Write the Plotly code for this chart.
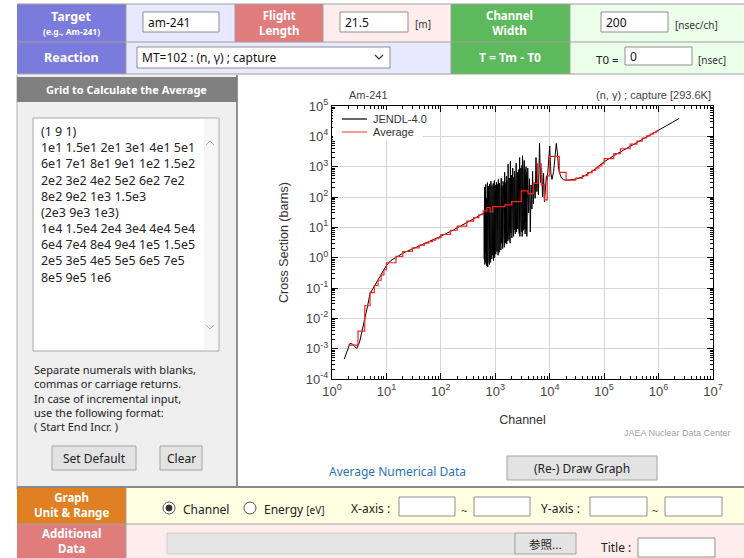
import plotly.graph_objects as go

# ---------------------------------------------------------------------------
# Am-241 (n, gamma) capture cross section (JENDL-4.0) versus TOF channel
# ---------------------------------------------------------------------------
jendl_channel = [
    # smooth low-channel part
    1.68, 1.9, 2.14, 2.4, 2.84, 3.2, 3.6, 4.03, 4.5, 5.0,
    6.15, 7.0, 8.0, 10.1, 12.0, 15.4, 20.0, 31.0, 50.0, 96.0,
    168.0, 300.0, 420.0, 597.0,
    # resolved resonance region
    620, 627, 635, 643, 651, 659, 667, 675, 683, 691,
    700, 708, 717, 726, 735, 744, 753, 762, 771, 781,
    790, 800, 810, 820, 830, 840, 850, 861, 871, 882,
    893, 904, 915, 926, 937, 949, 960, 972, 984, 996,
    1008, 1020, 1033, 1045, 1058, 1071, 1084, 1097, 1111, 1124,
    1138, 1152, 1166, 1180, 1195, 1209, 1224, 1239, 1254, 1269,
    1285, 1301, 1317, 1333, 1349, 1366, 1382, 1399, 1416, 1434,
    1451, 1469, 1487, 1505, 1523, 1542, 1561, 1580, 1599, 1619,
    1639, 1659, 1679, 1700, 1720, 1741, 1763, 1784, 1806, 1828,
    1851, 1873, 1896, 1920, 1943, 1967, 1991, 2016, 2040, 2065,
    2091, 2116, 2142, 2168, 2195, 2222, 2249, 2277, 2305, 2333,
    2362, 2390, 2420, 2449, 2479, 2510, 2540, 2572, 2603, 2635,
    2667, 2700, 2733, 2767, 2801, 2835, 2870, 2905, 2941, 2977,
    3013, 3050, 3088, 3126, 3164, 3203, 3242, 3282, 3322, 3363,
    3404, 3446, 3488, 3531, 3574, 3618, 3663, 3707, 3753, 3799,
    # isolated low-energy resonances and smooth high-channel part
    3950, 4100, 4250, 4400, 4550, 4700, 4850, 5000, 5200, 5400,
    5600, 5800, 6000, 6200, 6500, 6800, 7100, 7400, 7700, 8000,
    8300, 8700, 9000, 9500, 10000, 10500, 11000, 11800, 12500, 13200,
    13800, 14500, 15500, 16500, 18000, 20000, 23000, 30000, 40000, 60000,
    80000, 100000, 150000, 200000, 500000, 1000000, 2400000,
]
jendl_xs = [
    4.5e-4, 8e-4, 1.5e-3, 1.4e-3, 1.0e-3, 1.6e-3, 4e-3, 9e-3, 0.025, 0.066,
    0.126, 0.2, 0.3, 0.57, 0.8, 1.07, 1.4, 2.0, 2.9, 4.9,
    8.1, 14.0, 20.0, 29.0,
    30, 0.9, 210, 0.6, 140, 1.4, 260, 0.7, 90, 0.55,
    180, 1.1, 300, 0.5, 120, 2.0, 230, 0.8, 160, 0.6,
    270, 1.5, 110, 0.7, 330, 2.5, 150, 0.9, 240, 1.2,
    190, 3.0, 280, 0.8, 130, 1.8, 350, 1.0, 170, 2.2,
    250, 1.3, 140, 3.5, 310, 1.6, 200, 2.8, 260, 1.2,
    380, 4.0, 170, 1.5, 290, 2.5, 220, 5.0, 150, 1.8,
    420, 3.0, 240, 6.0, 180, 2.0, 330, 3.5, 260, 4.5,
    200, 2.2, 650, 5.5, 300, 3.0, 230, 7.0, 480, 2.8,
    350, 6.0, 210, 3.5, 1200, 8.0, 280, 4.0, 420, 9.0,
    300, 3.0, 1500, 6.5, 260, 10, 520, 4.5, 380, 7.0,
    900, 12, 300, 5.0, 450, 8.0, 700, 14, 350, 6.0,
    550, 10, 1300, 7.0, 400, 16, 650, 9.0, 300, 18,
    800, 8.0, 450, 6.0, 2000, 5.0, 500, 9.0, 900, 12,
    600, 7.0, 1100, 5.0, 2300, 12, 700, 8.0, 450, 10,
    1600, 9.0, 800, 6.0, 550, 15, 1000, 8.0, 650, 5.0,
    900, 30, 400, 7, 250, 40, 700, 60, 300, 90,
    2000, 150, 500, 120, 6000, 300, 900, 100, 600, 70,
    200, 500, 360, 1500, 4800, 600, 380, 700, 2500, 5800,
    3000, 900, 550, 420, 370, 355, 365, 390, 460, 700,
    1050, 1450, 2300, 3100, 8000, 16000, 39000,
]

# Averaged cross section on the channel grid (step values between edges)
avg_edges = [
    2, 3, 4, 5, 6, 7, 8, 9, 10, 15, 20, 30, 40, 50, 60, 70, 80, 90, 100, 150,
    200, 300, 400, 500, 600, 700, 800, 900, 1000, 1500, 2000, 3000, 4000, 5000,
    6000, 7000, 8000, 9000, 10000, 15000, 20000, 30000, 40000, 50000, 60000,
    70000, 80000, 90000, 100000, 150000, 200000, 300000, 400000, 500000,
    600000, 700000, 800000, 900000, 1000000,
]
avg_xs = [
    1.3e-3, 3.8e-3, 0.026, 0.07, 0.12, 0.18, 0.27, 0.4, 0.68, 1.1,
    1.6, 2.1, 2.6, 3.0, 3.4, 3.8, 4.2, 4.6, 5.8, 8.0,
    11, 16, 21, 26, 35, 45, 32, 48, 48, 55,
    70, 160, 130, 280, 1250, 250, 80, 500, 2200, 650,
    360, 420, 510, 640, 760, 900, 1050, 1250, 1850, 2700,
    3900, 5500, 7000, 8800, 10300, 11800, 13300, 15000,
]

x_tick_vals = [1, 10, 100, 1e3, 1e4, 1e5, 1e6, 1e7]
x_tick_text = ["10<sup>%d</sup>" % k for k in range(0, 8)]
y_tick_vals = [1e-4, 1e-3, 1e-2, 1e-1, 1, 10, 100, 1e3, 1e4, 1e5]
y_tick_text = ["10<sup>%d</sup>" % k for k in range(-4, 6)]

legend_names = ["JENDL-4.0", "Average"]
legend_colors = ["black", "#ff5050"]

grid_lines = [
    "(1 9 1)",
    "1e1 1.5e1 2e1 3e1 4e1 5e1",
    "6e1 7e1 8e1 9e1 1e2 1.5e2",
    "2e2 3e2 4e2 5e2 6e2 7e2",
    "8e2 9e2 1e3 1.5e3",
    "(2e3 9e3 1e3)",
    "1e4 1.5e4 2e4 3e4 4e4 5e4",
    "6e4 7e4 8e4 9e4 1e5 1.5e5",
    "2e5 3e5 4e5 5e5 6e5 7e5",
    "8e5 9e5 1e6",
]
help_lines = [
    "Separate numerals with blanks,",
    "commas or carriage returns.",
    "In case of incremental input,",
    "use the following format:",
    "( Start End Incr. )",
]

# ---------------------------------------------------------------------------
W, H = 744, 558
UI = "Noto Sans, DejaVu Sans, sans-serif"
CH = "Liberation Sans, Arial, sans-serif"


def px(x):
    return x / W


def py(y):
    return 1 - y / H


shapes = []
annotations = []


def rect(x0, y0, x1, y1, fill, line=None, lw=1, layer="below"):
    shapes.append(dict(
        type="rect", xref="paper", yref="paper", layer=layer,
        x0=px(x0), x1=px(x1), y0=py(y1), y1=py(y0), fillcolor=fill,
        line=dict(color=line or fill, width=lw if line else 0),
    ))


def hline(x0, x1, y, color="#a0a0a0", lw=1, layer="below"):
    shapes.append(dict(type="line", xref="paper", yref="paper", layer=layer,
                       x0=px(x0), x1=px(x1), y0=py(y), y1=py(y),
                       line=dict(color=color, width=lw)))


def vline(x, y0, y1, color="#a0a0a0", lw=1):
    shapes.append(dict(type="line", xref="paper", yref="paper", layer="below",
                       x0=px(x), x1=px(x), y0=py(y0), y1=py(y1),
                       line=dict(color=color, width=lw)))


def path(points, color="#555", lw=1):
    d = "M" + " L".join("%f,%f" % (px(a), py(b)) for a, b in points)
    shapes.append(dict(type="path", xref="paper", yref="paper", path=d,
                       line=dict(color=color, width=lw)))


def circle(cx, cy, r, fill, line):
    shapes.append(dict(type="circle", xref="paper", yref="paper",
                       x0=px(cx - r), x1=px(cx + r), y0=py(cy + r), y1=py(cy - r),
                       fillcolor=fill, line=dict(color=line, width=1)))


def text(x, y, s, size=12, color="#222", anchor="left", bold=False,
         family=UI, angle=0):
    if bold:
        s = "<b>" + s.replace("<br>", "</b><br><b>") + "</b>"
    annotations.append(dict(
        x=px(x), y=py(y), xref="paper", yref="paper", text=s, showarrow=False,
        xanchor=anchor, yanchor="middle", textangle=angle, align=anchor,
        font=dict(family=family, size=size, color=color),
    ))


def inputbox(x0, y0, x1, y1, value=None, size=12):
    rect(x0, y0, x1, y1, "white", "#8f8f8f")
    if value is not None:
        text(x0 + 3, (y0 + y1) / 2, value, size=size, color="#111")


def button(x0, y0, x1, y1, label, size=12, family=UI):
    rect(x0, y0, x1, y1, "#e3e3e3", "#a3a3a3")
    text((x0 + x1) / 2, (y0 + y1) / 2, label, size=size, color="#222",
         anchor="center", family=family)


# --- top rows --------------------------------------------------------------
PURPLE, LAV = "#7b7bdd", "#e8e8ff"
RED, PINK = "#e07c7c", "#ffeded"
GREEN, LGREEN = "#5cb95c", "#eafeea"

rect(17, 4, 126, 42, PURPLE)
rect(126, 4, 235, 42, LAV)
rect(235, 4, 323, 42, RED)
rect(323, 4, 451, 42, PINK)
rect(451, 4, 570, 42, GREEN)
rect(570, 4, 744, 42, LGREEN)
rect(17, 42, 126, 74, PURPLE)
rect(126, 42, 451, 74, LAV)
rect(451, 42, 570, 74, GREEN)
rect(570, 42, 744, 74, LGREEN)
hline(17, 744, 4)
hline(17, 744, 42)
hline(17, 744, 74)
for xv in (126, 235, 323, 451, 570):
    vline(xv, 4, 42)
for xv in (126, 451, 570):
    vline(xv, 42, 74)

text(71, 16, "Target", 12.5, "white", "center", True)
text(71, 31, "(e.g., Am-241)", 8.5, "white", "center", True)
inputbox(143, 12, 219, 32, "am-241")
text(279, 23, "Flight<br>Length", 11.5, "white", "center", True)
inputbox(340, 12, 408, 32, "21.5")
text(413, 24, "[m]", 10, "#333")
text(510, 23, "Channel<br>Width", 11.5, "white", "center", True)
inputbox(601, 12, 668, 32, "200")
text(673, 25, "[nsec/ch]", 10, "#333")

text(71, 58, "Reaction", 12.5, "white", "center", True)
rect(137, 47, 390, 68, "white", "#8f8f8f")
text(140, 57.5, "MT=102 : (n, \u03b3) ; capture", 12, "#111")
path([(375, 55), (379, 59), (383, 55)], "#333", 1.2)
text(510, 57, "T = Tm - T0", 12, "white", "center", True)
text(594, 59, "T0 =", 11.5, "#222")
inputbox(625, 47, 692, 65, "0")
text(696, 60, "[nsec]", 10, "#333")

# --- left panel ------------------------------------------------------------
rect(17, 75, 237, 489, "#efefef")
vline(17, 75, 489, "#b0b0b0")
vline(237, 75, 489, "#707070", 1.5)
rect(17, 77, 237, 102, "#808080")
text(127, 89, "Grid to Calculate the Average", 11, "white", "center", True)
rect(33, 118, 219, 351, "white", "#a8a8a8")
rect(204, 119, 218, 350, "#f6f6f6")
path([(206, 145), (210, 141), (214, 145)], "#b0b0b0", 1)
path([(206, 325), (210, 329), (214, 325)], "#b0b0b0", 1)
text(39, 132 + 16.2 * 4.5, "<br>".join(grid_lines), 12.45, "#222")
text(32, 369 + 14.3 * 2, "<br>".join(help_lines), 11, "#222")
button(52, 446, 136, 470, "Set Default")
button(160, 446, 202, 470, "Clear")

# --- right panel -----------------------------------------------------------
text(397, 471, "Average Numerical Data", 12, "#2a74b9", "center")
button(507, 456, 657, 480, "(Re-) Draw Graph")
text(733, 433, "JAEA Nuclear Data Center", 9, "#a0a0a0", "right", family=CH)
text(347, 95, "Am-241", 11, "#444", family=CH)
text(713, 95, "(n, \u03b3) ; capture [293.6K]", 11, "#444", "right", family=CH)

# legend box inside the plot area
rect(333, 110, 423, 141, "white", layer="above")
for i, (name, col) in enumerate(zip(legend_names, legend_colors)):
    yy = 119 + 13 * i
    hline(342, 367, yy, col, 1.2, layer="above")
    text(371, yy, name, 11, "#333", family=CH)

# --- bottom rows -----------------------------------------------------------
ORANGE, YEL = "#e08022", "#ffffe2"
rect(17, 487, 126, 524, ORANGE)
rect(126, 487, 744, 524, YEL)
rect(17, 524, 126, 558, RED)
rect(126, 524, 744, 558, PINK)
hline(17, 744, 487, "#8a8a8a", 2)
hline(17, 744, 524, "#a0a0a0")
vline(126, 487, 558)

text(71, 505, "Graph<br>Unit & Range", 11.5, "white", "center", True)
circle(169, 508, 6, "white", "#555")
circle(169, 508, 3, "#333", "#333")
text(181, 509, "Channel", 12, "#222")
circle(250, 508, 6, "white", "#555")
text(262, 509, "Energy <span style='font-size:10px'>[eV]</span>", 12, "#222")
text(349, 508, "X-axis :", 12, "#222")
inputbox(399, 497, 455, 516)
text(464, 510, "~", 11, "#444", "center")
inputbox(474, 497, 530, 516)
text(539, 508, "Y-axis :", 12, "#222")
inputbox(590, 497, 647, 516)
text(655, 510, "~", 11, "#444", "center")
inputbox(665, 497, 722, 516)

text(71, 541, "Additional<br>Data", 11.5, "white", "center", True)
rect(167, 533, 515, 554, "#e4e4e4", "#cfcfcf")
button(515, 533, 576, 554, "\u53c2\u7167...", 11.5, "Noto Sans CJK JP")
text(599, 547, "Title :", 12, "#222")
inputbox(638, 538, 715, 557)

# --- chart -----------------------------------------------------------------
minor_vals = [k * 10.0 ** n for n in range(-4, 7) for k in range(2, 10)]

fig = go.Figure()
fig.add_trace(go.Scatter(
    x=jendl_channel, y=jendl_xs, mode="lines", name=legend_names[0],
    line=dict(color="black", width=1), showlegend=False,
))
fig.add_trace(go.Scatter(
    x=avg_edges, y=avg_xs + [avg_xs[-1]], mode="lines", name=legend_names[1],
    line=dict(color="#ff2020", width=1.2, shape="hv"), showlegend=False,
))

axis_common = dict(
    type="log", tickmode="array", ticks="inside", ticklen=6, tickcolor="black",
    showline=True, linecolor="black", linewidth=1, mirror="allticks",
    showgrid=True, gridcolor="#d6d6d6", gridwidth=1, zeroline=False,
    automargin=False,
    tickfont=dict(family=CH, size=13, color="#444"),
    minor=dict(tickvals=minor_vals, ticks="inside", ticklen=3,
               tickcolor="black", showgrid=False),
)
fig.update_layout(
    width=W, height=H, margin=dict(l=0, r=0, t=0, b=0, autoexpand=False),
    paper_bgcolor="white", plot_bgcolor="white", showlegend=False,
    xaxis=dict(axis_common, range=[0, 7], domain=[px(332), px(713)],
               tickvals=x_tick_vals, ticktext=x_tick_text,
               title=dict(text="Channel", standoff=17,
                          font=dict(family=CH, size=12.5, color="#333"))),
    yaxis=dict(axis_common, range=[-4, 5], domain=[py(379), py(106)],
               tickvals=y_tick_vals, ticktext=y_tick_text,
               title=dict(text="Cross Section (barns)", standoff=14,
                          font=dict(family=CH, size=12.5, color="#333"))),
    shapes=shapes, annotations=annotations,
)

fig.write_html("out.html")
